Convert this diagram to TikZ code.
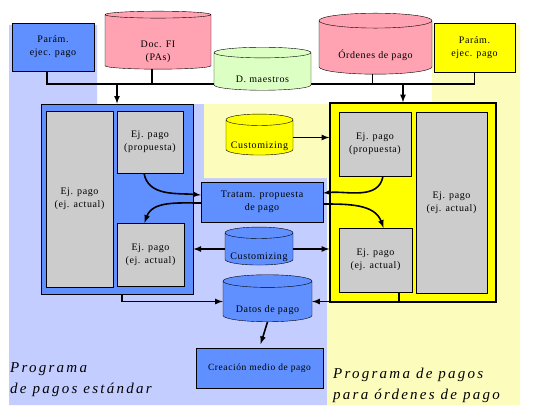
\documentclass[tikz,border=0pt]{standalone}
\usepackage{fontspec}
\setmainfont{Liberation Serif}[LetterSpace=6]
\newfontfamily\rotulofont{Liberation Serif}[LetterSpace=15]
\usetikzlibrary{arrows,shapes.geometric}
\definecolor{fondoAzul}{HTML}{C4CDFF}
\definecolor{fondoAmar}{HTML}{FCFCBC}
\definecolor{cajaAzul}{HTML}{6090FF}
\definecolor{cajaAmar}{HTML}{FFFF00}
\definecolor{cajaRosa}{HTML}{FFA2B2}
\definecolor{cajaVerde}{HTML}{DCFFC4}
\definecolor{cajaGris}{HTML}{CCCCCC}
% texto bajado dentro del cuerpo del cilindro
\newcommand\cil[2][8pt]{\raisebox{-#1}[\height][\depth]{%
  \begin{tabular}{@{}c@{}}#2\end{tabular}}}
\tikzset{
  caja/.style={draw,rectangle,inner sep=0pt,align=center,
    font=\fontsize{10}{13}\selectfont},
  gris/.style={caja,fill=cajaGris},
  cilindro/.style={draw,cylinder,shape border rotate=90,aspect=0.2,
    inner sep=0pt,align=center,font=\fontsize{10}{13}\selectfont},
  flecha/.style={line width=1.6pt,-latex},
  bus/.style={line width=1.6pt},
  rotulo/.style={anchor=north west,align=left,inner sep=0pt,
    font=\rotulofont\itshape\fontsize{15}{21}\selectfont}
}

\begin{document}
\begin{tikzpicture}[x=1pt,y=-1pt]
  \useasboundingbox (0,0) rectangle (541,405);
  % fondos
  \fill[fondoAzul] (9,25)--(97,25)--(97,104)--(204,104)--(204,178)
    --(327,178)--(327,405)--(9,405)--cycle;
  \fill[fondoAmar] (432,25)--(520,25)--(520,405)--(327,405)--(327,178)
    --(204,178)--(204,104)--(432,104)--cycle;

  % fuentes de datos
  \node[caja,fill=cajaAzul,minimum width=82,minimum height=48] (parmL)
    at (53,47) {Parám.\\ejec. pago};
  \node[caja,fill=cajaAmar,minimum width=81,minimum height=49] (parmR)
    at (474.5,47.5) {Parám.\\ejec. pago};
  \coordinate (busR) at (474.5,84);
  \draw[bus] ([xshift=-6pt]parmL.south) |- (busR) -- (parmR.south);
  \node[cilindro,fill=cajaRosa,minimum width=106,minimum height=58] (docfi)
    at (158,42) {\cil[9pt]{Doc. FI\\(PAs)}};
  \node[cilindro,fill=cajaVerde,minimum width=97,minimum height=43] (maestros)
    at (262.5,71.5) {\cil{D. maestros}};
  \node[cilindro,fill=cajaRosa,minimum width=113,minimum height=61] (ordenes)
    at (375.5,47.5) {\cil{Órdenes de pago}};
  \draw[bus] ([xshift=-6pt]docfi.south) -- ([xshift=-6pt]docfi.south |- busR);
  \draw[thin] ([xshift=-3pt]ordenes.south) -- ([xshift=-3pt]ordenes.south |- busR);

  % programa estandar
  \node[caja,fill=cajaAzul,line width=0.8pt,minimum width=152,minimum height=190]
    (bigL) at (117,199) {};
  \node[gris,minimum width=67,minimum height=176] (grisLA)
    at (79.5,199) {Ej. pago\\(ej. actual)};
  \node[gris,minimum width=66,minimum height=62] (grisLP)
    at (150,142) {Ej. pago\\(propuesta)};
  \node[gris,minimum width=67,minimum height=63] (grisLE)
    at (150.5,254.5) {Ej. pago\\(ej. actual)};

  % programa ordenes de pago
  \node[caja,fill=cajaAmar,line width=1.4pt,minimum width=166,minimum height=199]
    (bigR) at (413,202.5) {};
  \node[gris,minimum width=72,minimum height=64] (grisRP)
    at (375,144) {Ej. pago\\(propuesta)};
  \node[gris,minimum width=73,minimum height=64] (grisRE)
    at (375.5,260) {Ej. pago\\(ej. actual)};
  \node[gris,minimum width=71,minimum height=181] (grisRA)
    at (451.5,202.5) {Ej. pago\\(ej. actual)};

  % centro
  \node[caja,fill=cajaAzul,minimum width=122,minimum height=40] (tratam)
    at (262,202) {Tratam. propuesta\\de pago};
  \node[cilindro,fill=cajaAmar,minimum width=67,minimum height=41] (custY)
    at (259.5,137.5) {\cil{Customizing}};
  \node[cilindro,fill=cajaAzul,minimum width=68,minimum height=38] (custB)
    at (259,249) {\cil{Customizing}};
  \node[cilindro,fill=cajaAzul,minimum width=89,minimum height=47] (datos)
    at (267.5,301.5) {\cil{Datos de pago}};
  \node[caja,fill=cajaAzul,minimum width=127,minimum height=40] (crea)
    at (259.5,368) {\fontsize{9.5}{11}\selectfont Creación medio de pago};

  % flechas
  \draw[flecha] (bigL.north |- busR) -- (bigL.north);
  \draw[flecha] ([xshift=-10pt]bigR.north |- busR) -- ([xshift=-10pt]bigR.north);
  \draw[flecha] ([xshift=-6pt]grisLP.south) to[out=-80,in=175]
    ([yshift=7pt]tratam.west);
  \draw[flecha] ([yshift=-1pt]tratam.west) to[out=180,in=70]
    ([xshift=-6pt]grisLE.north);
  \draw[flecha] ([xshift=8pt]grisRP.south) to[out=-100,in=5]
    ([yshift=9pt]tratam.east);
  \draw[flecha] ([yshift=-2pt]tratam.east) to[out=0,in=110]
    ([xshift=8pt]grisRE.north);
  \draw[flecha] (custB.west) -- (custB.west -| bigL.east);
  \draw[flecha] (custY.east) -- (custY.east -| bigR.west);
  \draw[flecha] (custB.east) -- (custB.east -| bigR.west);
  \draw[flecha] ([xshift=5pt]bigL.south) |- (datos.west);
  \draw[flecha] ([xshift=23.5pt]grisRE.south) |- (datos.east);
  \draw[flecha,shorten >=4pt] (datos.south) -- (crea.north);

  % rotulos
  \node[rotulo] (rotL) at (10,362) {Programa\\de pagos estándar};
  \node[rotulo] (rotR) at (333,368) {Programa de pagos\\para órdenes de pago};
\end{tikzpicture}
\end{document}
